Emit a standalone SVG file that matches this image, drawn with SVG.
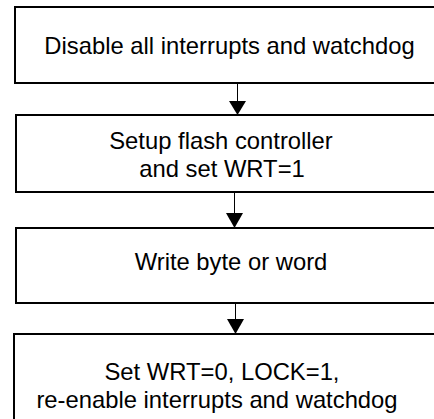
<svg xmlns="http://www.w3.org/2000/svg" width="434" height="419" viewBox="0 0 434 419">
<style>
.box{fill:#fff;stroke:#000;stroke-width:2}
.t{font-family:"Liberation Sans",Arial,sans-serif;font-size:23.8px;fill:#000;text-anchor:middle}
.c{stroke:#000;stroke-width:1;fill:none}
.h{fill:#000}
</style>
<rect width="434" height="419" fill="#fff"/>
<g id="n1"><rect class="box" x="15" y="7" width="440" height="76"/><text class="t" x="229.5" y="54">Disable all interrupts and watchdog</text></g>
<g id="n2"><rect class="box" x="16" y="115" width="440" height="77"/><text class="t" x="221" y="149">Setup flash controller</text><text class="t" x="222" y="177">and set WRT=1</text></g>
<g id="n3"><rect class="box" x="16" y="228" width="440" height="75"/><text class="t" x="231" y="270">Write byte or word</text></g>
<g id="n4"><rect class="box" x="14" y="334" width="440" height="100"/><text class="t" x="222" y="380">Set WRT=0, LOCK=1,</text><text class="t" x="217" y="408">re-enable interrupts and watchdog</text></g>
<g id="connectors">
<line class="c" x1="237.5" y1="84" x2="237.5" y2="102"/><polygon class="h" points="229,101 246,101 237.5,115"/>
<line class="c" x1="234.5" y1="193" x2="234.5" y2="214"/><polygon class="h" points="226,213 243,213 234.5,228"/>
<line class="c" x1="235.5" y1="304" x2="235.5" y2="320"/><polygon class="h" points="227,319 244,319 235.5,334"/>
</g>
</svg>
